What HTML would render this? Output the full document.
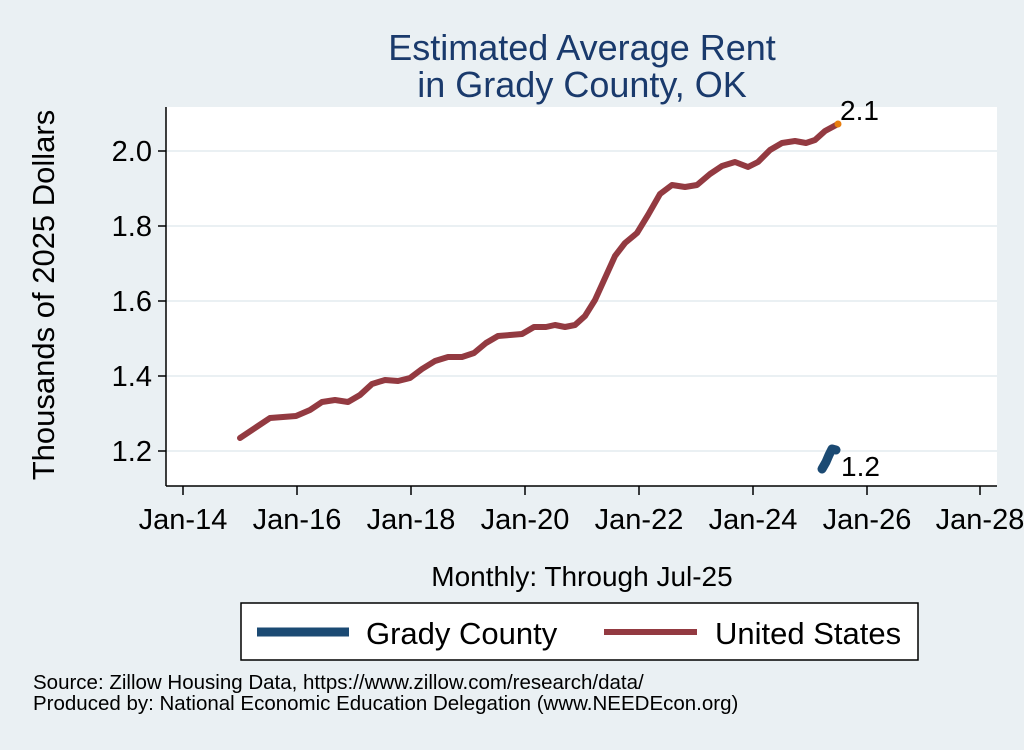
<!DOCTYPE html>
<html><head><style>
body{margin:0;background:#eaf0f3;}
svg text{font-family:"Liberation Sans",Arial,sans-serif;}
</style></head><body>
<svg width="1024" height="745" xmlns="http://www.w3.org/2000/svg">
<rect width="1024" height="745" fill="#eaf0f3"/>
<text x="582" y="60" font-size="36" fill="#1a3a6c" text-anchor="middle">Estimated Average Rent</text>
<text x="582" y="97" font-size="36" fill="#1a3a6c" text-anchor="middle">in Grady County, OK</text>
<rect x="166" y="107" width="831" height="379" fill="#fff"/>
<g stroke="#eaf0f3" stroke-width="2">
<line x1="166" x2="997" y1="451" y2="451"/><line x1="166" x2="997" y1="376" y2="376"/>
<line x1="166" x2="997" y1="301" y2="301"/><line x1="166" x2="997" y1="226" y2="226"/>
<line x1="166" x2="997" y1="151" y2="151"/>
</g>
<g stroke="#000" stroke-width="1.5">
<line x1="166" y1="107" x2="166" y2="486"/><line x1="166" y1="486" x2="997" y2="486"/>
<line x1="158" x2="166" y1="451" y2="451"/><line x1="158" x2="166" y1="376" y2="376"/>
<line x1="158" x2="166" y1="301" y2="301"/><line x1="158" x2="166" y1="226" y2="226"/>
<line x1="158" x2="166" y1="151" y2="151"/>
<line x1="183" x2="183" y1="486" y2="495"/><line x1="297" x2="297" y1="486" y2="495"/>
<line x1="411" x2="411" y1="486" y2="495"/><line x1="525" x2="525" y1="486" y2="495"/>
<line x1="639" x2="639" y1="486" y2="495"/><line x1="753" x2="753" y1="486" y2="495"/>
<line x1="867" x2="867" y1="486" y2="495"/><line x1="980" x2="980" y1="486" y2="495"/>
</g>
<g font-size="29" text-anchor="end">
<text x="152" y="461">1.2</text><text x="152" y="386">1.4</text><text x="152" y="311">1.6</text>
<text x="152" y="236">1.8</text><text x="152" y="161">2.0</text>
</g>
<g font-size="29" text-anchor="middle">
<text x="183" y="529">Jan-14</text><text x="297" y="529">Jan-16</text><text x="411" y="529">Jan-18</text>
<text x="525" y="529">Jan-20</text><text x="639" y="529">Jan-22</text><text x="753" y="529">Jan-24</text>
<text x="867" y="529">Jan-26</text><text x="980" y="529">Jan-28</text>
</g>
<text transform="translate(54,295) rotate(-90)" font-size="31" text-anchor="middle">Thousands of 2025 Dollars</text>
<text x="582" y="586" font-size="28" text-anchor="middle">Monthly: Through Jul-25</text>
<polyline fill="none" stroke="#933a41" stroke-width="6" stroke-linejoin="round" stroke-linecap="round"
points="240,438 255,428 270,418 283,417 296,416 310,410 322,402 335,400 348,402 360,395 372,384 385,380 398,381 410,378 422,369 435,361 448,357 462,357 474,353 486,343 498,336 510,335 522,334 534,327 546,327 555,325 565,327 575,325 585,316 595,300 605,278 615,256 625,243 637,233 648,215 660,194 672,185 685,187 697,185 710,174 722,166 735,162 748,167 758,162 770,150 782,143 795,141 806,143 815,140 825,131 838,124"/>
<circle cx="838" cy="124" r="3.5" fill="#e87d0e"/>
<polyline fill="none" stroke="#1b4a73" stroke-width="9" stroke-linecap="round" stroke-linejoin="round" points="822,469 826,462 829,455 832,449 836,450"/>
<text x="840" y="120" font-size="28">2.1</text>
<text x="841" y="476" font-size="28">1.2</text>
<rect x="241" y="603" width="677" height="57" fill="#fff" stroke="#000" stroke-width="1.5"/>
<line x1="257" x2="349" y1="632" y2="632" stroke="#1b4a73" stroke-width="9"/>
<text x="366" y="644" font-size="31">Grady County</text>
<line x1="604" x2="697" y1="632" y2="632" stroke="#933a41" stroke-width="6"/>
<text x="715" y="644" font-size="31">United States</text>
<text x="33" y="689" font-size="20.5">Source: Zillow Housing Data, https://www.zillow.com/research/data/</text>
<text x="33" y="710" font-size="20.5">Produced by: National Economic Education Delegation (www.NEEDEcon.org)</text>
</svg>
</body></html>
